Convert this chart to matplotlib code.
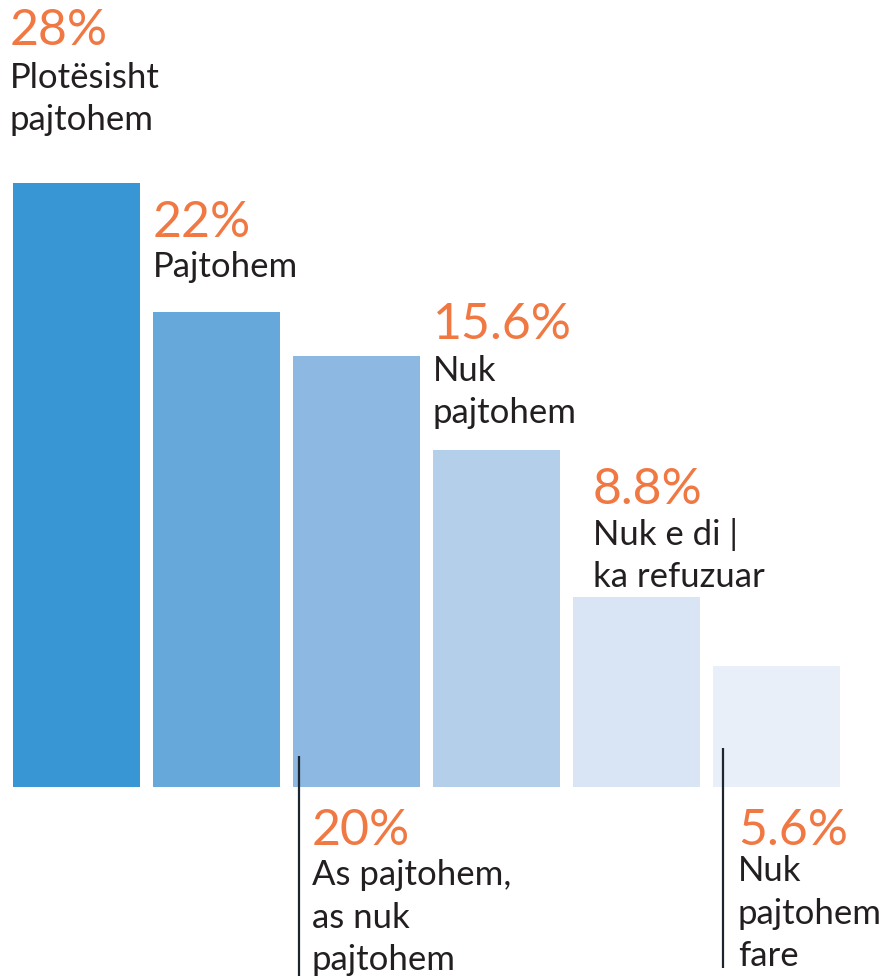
import matplotlib.pyplot as plt

# values (percent)
values = [28, 22, 20, 15.6, 8.8, 5.6]
pct_labels = ["28%", "22%", "20%", "15.6%", "8.8%", "5.6%"]
cat_labels = [
    "Plotësisht\npajtohem",
    "Pajtohem",
    "As pajtohem,\nas nuk\npajtohem",
    "Nuk\npajtohem",
    "Nuk e di |\nka refuzuar",
    "Nuk\npajtohem\nfare",
]
bar_colors = ["#3796d3", "#66a8d9", "#8cb8e2", "#b3cfea", "#d9e5f4", "#e8eff8"]

ORANGE = "#f07843"
DARK = "#231f20"
LINE = "#1c2530"
FONT = "Lato"

# layout: pixel offsets from the bar's top-left corner (above) or bottom-left (below)
# dy_lab is the baseline of the label's last line
# (dx_pct, dy_pct, dx_lab, dy_lab, below, line_dx, line_top, line_bottom)
layout = [
    (-3, 138, -3, 53, False, None, None, None),
    (0, 75, 0, 35, False, None, None, None),
    (19, -58, 19, -183, True, 6, 31, -189),
    (0, 111, 0, 27, False, None, None, None),
    (20, 93, 20, 10, False, None, None, None),
    (25, -58, 25, -179, True, 10, 39, -181),
]

W, H = 891, 976
STEP = 140.0          # pixels per bar
YSCALE = 604 / 28.0   # pixels per percent
BAR_W = 127 / STEP

fig = plt.figure(figsize=(W / 100, H / 100), dpi=100)
ax = fig.add_axes([0, 0, 1, 1])
ax.set_xlim(-76.5 / STEP, (W - 76.5) / STEP)
ax.set_ylim(-189 / YSCALE, (H - 189) / YSCALE)
ax.axis("off")

xs = list(range(len(values)))
ax.bar(xs, values, width=BAR_W, color=bar_colors, zorder=1)

for i, v in enumerate(values):
    dxp, dyp, dxl, dyl, below, ldx, ltop, lbot = layout[i]
    left = xs[i] - BAR_W / 2
    anchor_y = 0 if below else v
    ax.annotate(pct_labels[i], xy=(left, anchor_y), xytext=(dxp, dyp),
                textcoords="offset pixels", ha="left", va="baseline",
                fontsize=36, color=ORANGE, family=FONT)
    ax.annotate(cat_labels[i], xy=(left, anchor_y), xytext=(dxl, dyl),
                textcoords="offset pixels", ha="left", va="baseline",
                fontsize=25, color=DARK, family=FONT, linespacing=1.4)
    if below:
        lx = left + ldx / STEP
        ax.plot([lx, lx], [ltop / YSCALE, lbot / YSCALE], color=LINE,
                lw=1.6, solid_capstyle="butt", zorder=3)

fig.savefig("out.png", dpi=100)
